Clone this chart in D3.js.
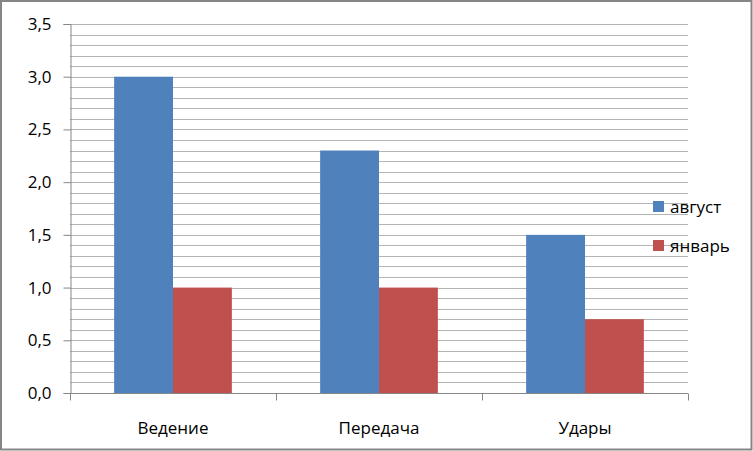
<!DOCTYPE html>
<html>
<head>
<meta charset="utf-8">
<script src="https://cdn.jsdelivr.net/npm/d3@7"></script>
<style>
  body { margin: 0; background: #fff; }
  text { font-family: "Open Sans", "Noto Sans", sans-serif; fill: #000; }
</style>
</head>
<body>
<div id="chart"></div>
<script>
/* data */
var categories = ["Ведение", "Передача", "Удары"];
var seriesNames = ["август", "январь"];
var august = [3.0, 2.3, 1.5];
var january = [1.0, 1.0, 0.7];
var yTicks = [0, 0.5, 1.0, 1.5, 2.0, 2.5, 3.0, 3.5];
var colors = ["#4f81bd", "#c0504d"];

var width = 753, height = 451;
var plot = {left: 70, right: 688, top: 24, bottom: 393};

var svg = d3.select("#chart").append("svg")
  .attr("width", width).attr("height", height);

// outer frame
svg.append("rect")
  .attr("x", 1).attr("y", 1)
  .attr("width", width - 2.5).attr("height", height - 2.5)
  .attr("fill", "#fff").attr("stroke", "#868686").attr("stroke-width", 2);

var x = d3.scaleBand().domain(categories).range([plot.left, plot.right]);
var y = d3.scaleLinear().domain([0, 3.5]).range([plot.bottom, plot.top]);
var bw = x.bandwidth() / 3.5;

// minor gridlines every 0.1
var grid = d3.range(1, 36).map(function(i) { return i / 10; });
svg.append("g").selectAll("line").data(grid).enter().append("line")
  .attr("x1", plot.left).attr("x2", plot.right)
  .attr("y1", function(d) { return Math.round(y(d)) + 0.5; })
  .attr("y2", function(d) { return Math.round(y(d)) + 0.5; })
  .attr("stroke", "#b3b3b3").attr("stroke-width", 1);

// bars
var data = [august, january];
data.forEach(function(vals, s) {
  svg.append("g").selectAll("rect").data(vals).enter().append("rect")
    .attr("x", function(d, i) { return x(categories[i]) + bw * 0.75 + s * bw; })
    .attr("width", bw)
    .attr("y", function(d) { return y(d); })
    .attr("height", function(d) { return plot.bottom - y(d); })
    .attr("fill", colors[s]);
});

// y axis
var yAxis = svg.append("g").attr("transform", "translate(" + (plot.left + 0.5) + ",0)")
  .call(d3.axisLeft(y).tickValues(yTicks).tickSize(7).tickPadding(12)
    .tickFormat(function(d) { return d3.format(".1f")(d).replace(".", ","); }));
yAxis.select(".domain").attr("stroke", "#868686");
yAxis.selectAll(".tick line").attr("stroke", "#868686");
yAxis.selectAll("text").style("font-size", "17px").attr("fill", "#000");

// x axis
var xAxisG = svg.append("g").attr("transform", "translate(0," + (plot.bottom + 0.5) + ")");
xAxisG.append("line").attr("x1", plot.left).attr("x2", plot.right)
  .attr("stroke", "#868686");
var bounds = categories.map(function(c) { return x(c); }).concat([plot.right]);
xAxisG.selectAll(".xt").data(bounds).enter().append("line")
  .attr("x1", function(d) { return Math.round(d) + 0.5; })
  .attr("x2", function(d) { return Math.round(d) + 0.5; })
  .attr("y1", 0).attr("y2", 7).attr("stroke", "#868686");
xAxisG.selectAll("text").data(categories).enter().append("text")
  .attr("x", function(d) { return x(d) + x.bandwidth() / 2; })
  .attr("y", 40).attr("text-anchor", "middle")
  .style("font-size", "17px").text(function(d) { return d; });

// legend
var legend = svg.append("g").selectAll("g").data(seriesNames).enter().append("g")
  .attr("transform", function(d, i) { return "translate(653," + (201 + i * 39) + ")"; });
legend.append("rect").attr("width", 11).attr("height", 11)
  .attr("fill", function(d, i) { return colors[i]; });
legend.append("text").attr("x", 17).attr("y", 12)
  .style("font-size", "17px").text(function(d) { return d; });
</script>
</body>
</html>
